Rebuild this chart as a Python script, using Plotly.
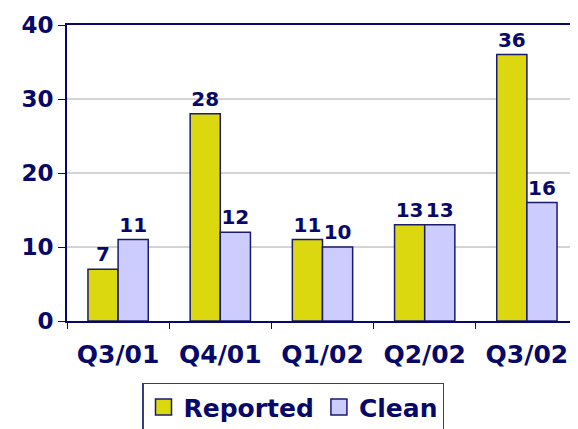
import plotly.graph_objects as go

quarters = ["Q3/01", "Q4/01", "Q1/02", "Q2/02", "Q3/02"]
reported = [7, 28, 11, 13, 36]
clean = [11, 12, 10, 13, 16]

NAVY = "#080868"
FONT = "DejaVu Sans, Verdana, sans-serif"
YELLOW = "#dcd810"
LAVENDER = "#ccccff"
EDGE = "#1a1a6e"

fig = go.Figure()
for name, vals, col in [("Reported", reported, YELLOW), ("Clean", clean, LAVENDER)]:
    fig.add_bar(
        name=name, x=quarters, y=vals, showlegend=False,
        marker=dict(color=col, line=dict(color=EDGE, width=1.5)),
        text=vals, textposition="outside", cliponaxis=False,
        textfont=dict(family=FONT, size=20, color=NAVY, weight="bold"),
    )
    # legend entry with a larger square swatch
    fig.add_scatter(
        name=name, x=[None], y=[None], mode="markers",
        marker=dict(symbol="square", size=18, color=col, line=dict(color=EDGE, width=1.5)),
    )

# the page body adds an 8px offset, so the figure is sized 8px smaller
fig.update_layout(
    width=570, height=421,
    barmode="group", bargap=0.41, bargroupgap=0,
    paper_bgcolor="white", plot_bgcolor="white",
    margin=dict(l=59, r=0, t=17, b=108, autoexpand=False),
    font=dict(family=FONT, color=NAVY, weight="bold"),
    showlegend=True,
    legend=dict(
        orientation="h", xref="container", yref="container",
        x=0.5, xanchor="center", y=0.11, yanchor="top",
        bordercolor="#3a3a80", borderwidth=1.5,
        font=dict(family=FONT, size=25, color=NAVY, weight="bold"),
        itemwidth=30, tracegroupgap=0,
    ),
    xaxis=dict(
        showline=True, linecolor=NAVY, linewidth=2, mirror=True,
        ticks="outside", tickson="boundaries", ticklen=6, tickcolor=NAVY,
        tickfont=dict(family=FONT, size=25, color=NAVY, weight="bold"),
        ticklabelstandoff=10,
        automargin=False, showgrid=False,
    ),
    yaxis=dict(
        range=[0, 40], dtick=10,
        showline=True, linecolor=NAVY, linewidth=2,
        ticks="outside", ticklen=7, tickcolor=NAVY,
        showgrid=True, gridcolor="#d4d4d4", gridwidth=2,
        tickfont=dict(family=FONT, size=23, color=NAVY, weight="bold"),
        zeroline=False, automargin=False,
    ),
)

fig.write_html("out.html")
